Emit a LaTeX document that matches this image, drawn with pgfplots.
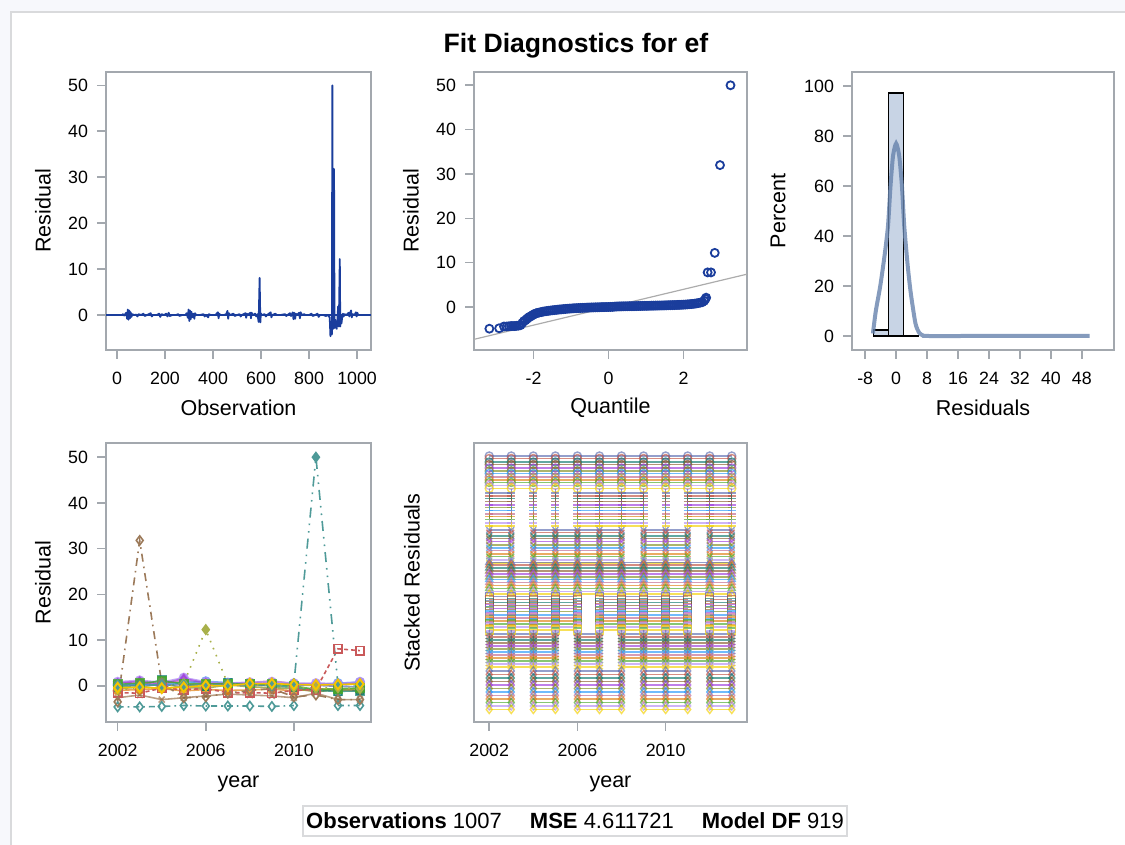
\documentclass[border=0pt]{standalone}
\usepackage{pgfplots}
\usepackage{pgfplotstable}
\pgfplotsset{compat=1.18}
\usepackage{fontspec}
\setmainfont{Liberation Sans}
\definecolor{axgray}{HTML}{A3A8AE}
\definecolor{sasblue}{HTML}{1A3D9C}
\definecolor{histfill}{HTML}{C8D4E5}
\definecolor{kde}{HTML}{6682AC}
\definecolor{bgc}{HTML}{F7F8FC}
\definecolor{framec}{HTML}{D9DADC}
\definecolor{sc0}{HTML}{5A6BB0}
\definecolor{sc1}{HTML}{C0503F}
\definecolor{sc2}{HTML}{0E7A6E}
\definecolor{sc3}{HTML}{8A5A2E}
\definecolor{sc4}{HTML}{9D3CDB}
\definecolor{sc5}{HTML}{7F8E1F}
\definecolor{sc6}{HTML}{2597FA}
\definecolor{sc7}{HTML}{C0678E}
\definecolor{sc8}{HTML}{E07F10}
\definecolor{sc9}{HTML}{47A82A}
\definecolor{sc10}{HTML}{B38EF3}
\definecolor{sc11}{HTML}{F2D000}
\definecolor{obrown}{HTML}{9C7A5A}
\definecolor{oolive}{HTML}{A8B04A}
\definecolor{oteal}{HTML}{4E9A98}
\definecolor{ored}{HTML}{C9595A}

\pgfplotsset{
  diag/.style={
    scale only axis, anchor=south west,
    axis line style={draw=axgray, line width=0.8pt},
    every tick/.style={draw=axgray, line width=0.8pt},
    tick align=outside, major tick length=4.5pt,
    xtick pos=bottom, ytick pos=left, minor tick num=0,
    tick label style={font=\fontsize{8.9}{10}\selectfont, text=black},
    xticklabel style={yshift=-3pt},
    yticklabel style={xshift=-1pt},
    label style={font=\fontsize{10.75}{12}\selectfont},
    /pgf/number format/assume math mode=true,
    /pgf/number format/1000 sep={},
    scaled ticks=false,
  },
  xlab/.style={xlabel style={at={([yshift=#1]axis description cs:0.5,0)}, anchor=center}},
  ylab/.style={ylabel style={at={([xshift=#1]axis description cs:0,0.5)}, anchor=center, rotate=0}},
}

% stacked offsets of the 84 cross-sections (7 bands of 12)
\pgfplotstableread{
lev
266
263.5
260
257.5
254
251
248.5
245
242
239.5
236.5
233.5
229
226
223.5
220.5
217
214.5
211.5
208
205.5
202.5
199
196
192
189.5
186
183.5
180.5
177
174
171.5
168
165.5
162
159
159.5
157
154
151
148
145
142.5
139.5
136.5
133.5
130.5
128
125.5
122.5
119.5
116.5
113.5
110.5
107
104
101
98
95
92
88
85
82
79
76
73
70
67
64
61
58
55
51
47.5
44
40.5
37
33.5
30
26.5
23
19.5
16
12.5
}\levtab

\pgfplotstableread{
year  br    ol    te    rd    tl    g     yl    p     b     dg    o     bl    pk    lg    lv    bn
2002  -3.5  -0.8  0.2   -1.5  -4.6  0.3   -0.4  0.6   0.4   -0.2  -1.0  0.1   0.8   -0.6  0.9   -2.6
2003  31.8  -0.5  0.0   -1.6  -4.6  0.6   -0.3  1.0   0.3   0.1   -0.8  0.3   0.5   -0.3  1.2   -2.0
2004  0.6   -0.2  0.3   -0.5  -4.5  1.0   -0.5  0.4   0.2   1.3   -0.6  0.1   0.3   0.5   0.8   -3.0
2005  -2.6  0.5   0.2   -0.8  -4.3  0.5   -0.3  1.6   0.7   0.3   -1.1  0.3   1.2   -0.4  1.8   -2.6
2006  -2.4  12.3  0.1   -0.6  -4.4  0.4   0.1   0.6   1.0   -0.1  -0.8  0.4   0.5   -0.5  0.9   -2.2
2007  -1.6  0.4   0.3   -1.5  -4.4  0.5   0.0   0.4   0.7   0.7   -1.0  0.2   0.4   0.2   0.6   -1.8
2008  -1.0  0.1   0.2   -1.5  -4.4  0.3   0.5   0.5   0.4   0.4   -0.9  0.1   0.7   -0.2  0.8   -2.0
2009  -0.6  0.2   0.1   -1.6  -4.5  0.4   0.5   0.6   0.3   0.0   -0.7  0.3   1.1   -0.4  0.9   -2.2
2010  -2.4  -0.3  0.5   -1.0  -4.3  0.0   0.3   0.3   0.4   -0.3  -1.1  0.2   0.5   -0.6  0.6   -2.6
2011  -2.0  -0.5  50.0  -0.8  nan   -0.8  0.2   0.3   0.2   -1.0  -0.6  0.1   0.4   -1.3  0.6   -1.6
2012  -3.0  -0.4  0.3   8.1   -4.3  -0.6  0.3   0.2   0.6   -1.2  -0.9  -0.1  0.5   -0.8  0.5   -3.0
2013  -3.0  -0.6  0.2   7.7   -4.3  -0.5  0.4   0.5   0.8   -1.1  -1.0  -0.2  0.7   -0.7  0.9   -3.0
}\pfour

% year lists of each band, with the missing spans marked by nan
\def\bandI{(2002,\lv)(2003,\lv)(2004,\lv)(2005,\lv)(2006,\lv)(2007,\lv)(2008,\lv)(2009,\lv)(2010,\lv)(2011,\lv)(2012,\lv)(2013,\lv)}
\def\bandII{(2002,\lv)(2003,\lv)(2003.5,nan)(2004,\lv)(2004.5,nan)(2005,\lv)(2005.5,nan)(2006,\lv)(2007,\lv)(2008,\lv)(2009,\lv)(2009.5,nan)(2010,\lv)(2010.5,nan)(2011,\lv)(2012,\lv)(2013,\lv)}
\def\bandIII{(2002,\lv)(2003,\lv)(2003.5,nan)(2004,\lv)(2005,\lv)(2006,\lv)(2007,\lv)(2008,\lv)(2008.5,nan)(2009,\lv)(2010,\lv)(2011,\lv)(2011.5,nan)(2012,\lv)(2013,\lv)}
\def\bandIV{(2002,\lv)(2003,\lv)(2004,\lv)(2005,\lv)(2006,\lv)(2007,\lv)(2008,\lv)(2009,\lv)(2010,\lv)(2011,\lv)(2012,\lv)(2013,\lv)}
\def\bandV{(2002,\lv)(2003,\lv)(2004,\lv)(2005,\lv)(2006,\lv)(2006.5,nan)(2007,\lv)(2008,\lv)(2009,\lv)(2010,\lv)(2011,\lv)(2011.5,nan)(2012,\lv)(2013,\lv)}
\def\bandVI{(2002,\lv)(2003,\lv)(2004,\lv)(2005,\lv)(2005.5,nan)(2006,\lv)(2007,\lv)(2007.5,nan)(2008,\lv)(2009,\lv)(2010,\lv)(2011,\lv)(2012,\lv)(2013,\lv)}
\def\bandVII{(2002,\lv)(2003,\lv)(2003.5,nan)(2004,\lv)(2005,\lv)(2005.5,nan)(2006,\lv)(2007,\lv)(2008,\lv)(2008.5,nan)(2009,\lv)(2010,\lv)(2011,\lv)(2011.5,nan)(2012,\lv)(2013,\lv)}

\begin{document}
\begin{tikzpicture}
\path[use as bounding box] (0,0) rectangle (562.5pt,422.5pt);
\fill[bgc] (0,0) rectangle (5.25pt,422.5pt);
\fill[bgc] (0,416.25pt) rectangle (562.5pt,422.5pt);
\draw[framec, line width=1pt] (5.25pt,0) -- (5.25pt,416.25pt) -- (562.5pt,416.25pt);
\node[font=\fontsize{13.3}{15}\selectfont\bfseries] at (288pt,399.5pt) {Fit Diagnostics for ef};

% Panel 1: residual by observation
\begin{axis}[diag, at={(53pt,247.5pt)}, width=132.5pt, height=139pt,
  xmin=-46, xmax=1058, ymin=-7.6, ymax=52.9,
  xtick={0,200,400,600,800,1000}, ytick={0,10,20,30,40,50},
  xlabel={Observation}, ylabel={Residual}, xlab=-29pt, ylab=-31.5pt]
\addplot[sasblue, line width=0.9pt] coordinates {(-46,0)(1058,0)};
\addplot[sasblue, line width=0.9pt, line join=round] coordinates {
(10,0)(20,0)(25,0.2)(30,-0.1)(38,0.5)(42,-0.8)(45,1.2)(48,-1.0)(51,1.0)(54,-0.7)(57,0.6)(60,-0.4)(64,0.2)(70,0)(80,0.1)(85,-0.3)(90,0.2)(100,0)(110,0.3)(115,-0.2)(125,0)(140,0.4)(145,-0.3)(150,0)(165,0)(175,0.3)(180,-0.4)(185,0.2)(195,0)(205,0.3)(210,-0.3)(215,0.5)(220,-0.2)(230,0)(245,0)(255,0.2)(260,-0.2)(270,0)(285,0)(290,0.4)(295,-0.6)(298,1.2)(301,-1.3)(304,1.0)(307,-0.9)(310,0.7)(313,-0.5)(318,0.3)(322,-0.8)(325,0.4)(330,0)(345,0)(360,0.2)(365,-0.3)(370,0)(380,-0.5)(383,0.2)(390,0)(410,0)(420,0.6)(423,-0.7)(426,0.3)(430,0)(445,0)(455,0.2)(460,0.9)(463,-0.8)(466,0.4)(470,0)(485,0.3)(490,-0.2)(500,0)(510,0.2)(515,-0.3)(520,0)(535,0.4)(538,-0.6)(541,0.3)(545,0)(555,0.5)(558,-0.7)(561,0.5)(565,0)(575,0.3)(580,-0.3)(585,0.2)(590,-1.5)(594,8.1)(597,-1.6)(599,0.4)(602,0)(615,0.2)(620,-0.3)(625,0)(640,0.6)(643,-0.5)(646,0)(660,0.3)(665,0)(680,0)(700,0.2)(705,-0.2)(710,0)(720,0.4)(725,-0.2)(732,0.6)(735,-0.9)(738,0.5)(742,-0.8)(745,0.3)(750,0)(758,0.5)(762,-0.7)(765,0.6)(770,0)(780,0.2)(785,0)(800,0)(810,0.3)(815,-0.2)(825,0)(835,0.3)(840,-0.4)(845,0)(860,0)(870,-0.2)(878,0)(886,-0.5)(889,-4.6)(892,-3.8)(895,-4.2)(897,50)(900,-3)(904,31.8)(906,-2.8)(909,-1)(912,-2.6)(915,-3)(918,-1.2)(921,1.9)(924,-2.5)(928,12.2)(930,-2.5)(932,-0.5)(935,-1.8)(938,-0.4)(941,0.3)(944,-0.3)(948,0.2)(955,0)(965,0.5)(968,-0.3)(970,0.3)(975,1.0)(978,-0.5)(982,0.2)(990,0)(995,0.6)(998,-0.3)(1001,0.5)(1005,0)(1007,0)};
\end{axis}

% Panel 2: QQ plot
\begin{axis}[diag, at={(237pt,247.5pt)}, width=136.5pt, height=139pt,
  xmin=-3.59, xmax=3.69, ymin=-9.7, ymax=53,
  xtick={-2,0,2}, ytick={0,10,20,30,40,50},
  xlabel={Quantile}, ylabel={Residual}, xlab=-29pt, ylab=-31.5pt]
\addplot[color=gray!65, line width=0.6pt] coordinates {(-3.59,-7.3)(3.69,7.4)};
\addplot[only marks, mark=o, mark size=2pt, mark options={draw=sasblue, line width=0.9pt}] coordinates {
(-3.18,-4.9)(-2.92,-4.8)(-2.79,-4.4)(-2.72,-4.4)(-2.66,-4.35)(-2.6,-4.3)(-2.55,-4.3)(-2.5,-4.3)(-2.45,-4.25)(-2.4,-4.2)(-2.35,-4.1)(-2.3,-3.6)(-2.26,-3.2)(-2.22,-3.0)(-2.18,-2.7)(-2.14,-2.4)(-2.1,-2.2)(-2.06,-2.0)(-2.02,-1.8)(-1.98,-1.6)(-1.94,-1.45)(-1.9,-1.35)(-1.85,-1.25)(-1.8,-1.15)(-1.75,-1.05)(-1.7,-0.98)(-1.65,-0.92)(-1.6,-0.86)(-1.55,-0.8)(-1.5,-0.75)(-1.45,-0.7)(-1.4,-0.65)(-1.35,-0.6)(-1.3,-0.56)(-1.25,-0.52)(-1.2,-0.48)(-1.15,-0.44)(-1.1,-0.4)(-1.05,-0.37)(-1.0,-0.34)(-0.95,-0.31)(-0.9,-0.28)(-0.85,-0.26)(-0.8,-0.24)(-0.75,-0.22)(-0.7,-0.2)(-0.65,-0.18)(-0.6,-0.16)(-0.55,-0.14)(-0.5,-0.12)(-0.45,-0.11)(-0.4,-0.1)(-0.35,-0.08)(-0.3,-0.07)(-0.25,-0.06)(-0.2,-0.04)(-0.15,-0.03)(-0.1,-0.02)(-0.05,-0.01)(0,0)(0.05,0.01)(0.1,0.03)(0.15,0.06)(0.2,0.1)(0.25,0.12)(0.3,0.13)(0.35,0.14)(0.4,0.15)(0.45,0.16)(0.5,0.17)(0.55,0.18)(0.6,0.18)(0.65,0.19)(0.7,0.2)(0.75,0.21)(0.8,0.22)(0.85,0.23)(0.9,0.24)(0.95,0.25)(1.0,0.26)(1.05,0.27)(1.1,0.28)(1.15,0.29)(1.2,0.3)(1.25,0.31)(1.3,0.32)(1.35,0.33)(1.4,0.34)(1.45,0.35)(1.5,0.37)(1.55,0.38)(1.6,0.4)(1.65,0.41)(1.7,0.42)(1.75,0.44)(1.8,0.45)(1.85,0.47)(1.9,0.48)(1.95,0.5)(2.0,0.52)(2.05,0.55)(2.1,0.58)(2.15,0.62)(2.2,0.66)(2.25,0.7)(2.3,0.75)(2.35,0.82)(2.4,0.9)(2.45,1.0)(2.5,1.1)(2.55,1.4)(2.58,1.8)(2.6,2.1)
(2.64,7.8)(2.73,7.8)(2.83,12.2)(2.97,32)(3.25,50)};
\end{axis}

% Panel 3: histogram
\begin{axis}[diag, at={(426pt,247.5pt)}, width=131pt, height=139pt,
  xmin=-11.4, xmax=56.3, ymin=-5.6, ymax=105.6,
  xtick={-8,0,8,16,24,32,40,48}, ytick={0,20,40,60,80,100},
  xlabel={Residuals}, ylabel={Percent}, xlab=-29pt, ylab=-37pt]
\addplot[ybar interval, fill=histfill, draw=black, line width=0.7pt] coordinates {(-5.9,2.4)(-2.0,97.2)(1.9,0.3)(5.8,0)};
\addplot[kde, line width=2pt, opacity=0.8, smooth, tension=0.4] coordinates {
(-6,1)(-5.25,10)(-4.1,20)(-3,32)(-2.1,44)(-1.45,60)(-0.8,72)(0,77)(0.8,72)(1.5,60)(2.1,44)(3,28)(3.8,17)(5,5)(6,1.2)(7,0.2)(8,0)(20,0)(35,0)(50,0)};
\end{axis}

% Panel 4: residual by year
\begin{axis}[diag, at={(53pt,61.5pt)}, width=132.5pt, height=139.5pt,
  xmin=2001.47, xmax=2013.5, ymin=-7.9, ymax=53.1,
  xtick={2002,2006,2010}, ytick={0,10,20,30,40,50},
  xlabel={year}, ylabel={Residual}, unbounded coords=jump, xlab=-31pt, ylab=-31.5pt,
  every axis plot/.append style={line width=0.8pt, mark size=2.1pt}]
\addplot[sc3, opacity=0.6, mark=x, mark options={solid}] table[x=year,y=bn]{\pfour};
\addplot[sc8, opacity=0.7, mark=*, mark options={solid}] table[x=year,y=o]{\pfour};
\addplot[sc5, opacity=0.7, mark=triangle*, mark options={solid}] table[x=year,y=lg]{\pfour};
\addplot[sc2, opacity=0.7, mark=square*, mark options={solid}] table[x=year,y=dg]{\pfour};
\addplot[sc0, opacity=0.7, mark=o, mark options={solid}] table[x=year,y=bl]{\pfour};
\addplot[sc7, opacity=0.7, mark=+, mark options={solid}] table[x=year,y=pk]{\pfour};
\addplot[sc6, opacity=0.7, mark=*, mark options={solid}] table[x=year,y=b]{\pfour};
\addplot[sc10, opacity=0.8, mark=*, mark options={solid}] table[x=year,y=lv]{\pfour};
\addplot[sc4, opacity=0.7, mark=diamond*, mark options={solid}] table[x=year,y=p]{\pfour};
\addplot[sc9, opacity=0.8, mark=square*, mark options={solid}] table[x=year,y=g]{\pfour};
\addplot[ored, dash pattern=on 2pt off 1.5pt, mark=square, mark size=2.1pt, mark options={solid}] table[x=year,y=rd]{\pfour};
\addplot[oteal, dash pattern=on 3pt off 2pt on 0.8pt off 2pt, mark=diamond, mark size=2.3pt, mark options={solid}] table[x=year,y=tl]{\pfour};
\addplot[obrown, dash pattern=on 4pt off 2.5pt on 0.8pt off 2.5pt, mark=diamond, mark size=2.3pt, mark options={solid}] table[x=year,y=br]{\pfour};
\addplot[oolive, dash pattern=on 0.8pt off 3pt, mark=diamond*, mark size=2.3pt, mark options={solid}] table[x=year,y=ol]{\pfour};
\addplot[oteal, dash pattern=on 5pt off 3pt on 0.8pt off 3pt on 0.8pt off 3pt, mark=diamond*, mark size=2.3pt, mark options={solid}] table[x=year,y=te]{\pfour};
\addplot[sc11!85!orange, mark=diamond, mark size=2.4pt, mark options={solid, line width=1pt}] table[x=year,y=yl]{\pfour};
\end{axis}

% Panel 5: stacked residuals
\begin{axis}[diag, at={(237pt,61.5pt)}, width=136.5pt, height=139.5pt,
  xmin=2001.31, xmax=2013.69, ymin=0, ymax=279,
  xtick={2002,2006,2010}, ytick=\empty, unbounded coords=jump,
  xlabel={year}, ylabel={Stacked Residuals}, xlab=-31pt, ylab=-31pt]
\pgfplotsinvokeforeach{0,...,83}{
  \pgfplotstablegetelem{#1}{lev}\of\levtab
  \edef\lv{\pgfplotsretval}
  \pgfmathtruncatemacro\ci{mod(#1,12)}
  \pgfmathtruncatemacro\mi{int(#1/12)}
  \ifcase\mi \def\mk{o}\let\bc\bandI
  \or \def\mk{+}\let\bc\bandII
  \or \def\mk{x}\let\bc\bandIII
  \or \def\mk{triangle}\let\bc\bandIV
  \or \def\mk{square}\let\bc\bandV
  \or \def\mk{asterisk}\let\bc\bandVI
  \or \def\mk{diamond}\let\bc\bandVII
  \else \def\mk{o}\let\bc\bandI\fi
  \edef\doit{\noexpand\addplot[draw=sc\ci, line width=0.95pt, opacity=0.65, mark=\mk, mark size=2pt, mark options={solid, draw=sc\ci, line width=0.7pt}] coordinates {\bc};}
  \doit
}
\end{axis}

% Footer
\draw[framec, line width=0.8pt, fill=white] (151.5pt,4.5pt) rectangle (423.5pt,19.5pt);
\node[font=\fontsize{11}{13}\selectfont, inner sep=0pt] at (287.5pt,12pt) {\textbf{Observations} 1007\hspace{11pt} \textbf{MSE} 4.611721\hspace{11pt} \textbf{Model DF} 919};
\end{tikzpicture}
\end{document}
